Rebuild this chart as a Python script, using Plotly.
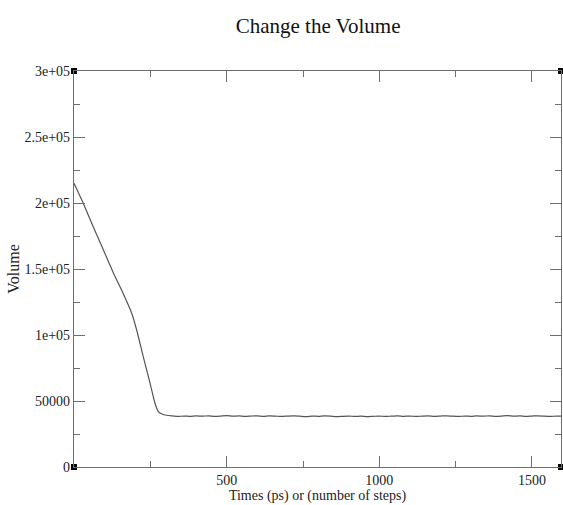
import plotly.graph_objects as go

# Descent phase
t_drop = [0, 15, 30, 63, 96, 129, 161, 189, 205, 227, 249, 265, 276, 290, 303, 320]
v_drop = [215000, 207500, 200000, 182000, 164500, 147000, 131500, 116500, 104000, 83500, 63500, 48500, 42000, 40000, 39200, 38700]

# Plateau phase (small fluctuations)
t_flat = [340, 360, 380, 400, 420, 440, 460, 480, 500, 520, 540, 560, 580, 600, 620, 640, 660, 680,
          700, 720, 740, 760, 780, 800, 820, 840, 860, 880, 900, 920, 940, 960, 980, 1000, 1020,
          1040, 1060, 1080, 1100, 1120, 1140, 1160, 1180, 1200, 1220, 1240, 1260, 1280, 1300, 1320,
          1340, 1360, 1380, 1400, 1420, 1440, 1460, 1480, 1500, 1520, 1540, 1560, 1580, 1595]
v_flat = [38300, 38600, 38400, 38700, 38500, 38800, 38400, 38600, 38900, 38500, 38700, 38300, 38600, 38800,
          38400, 38700, 38500, 38300, 38600, 38800, 38500, 38200, 38600, 38400, 38700, 38500, 38100, 38400,
          38600, 38300, 38500, 38200, 38400, 38600, 38300, 38500, 38700, 38400, 38600, 38300, 38500, 38700,
          38400, 38600, 38800, 38500, 38300, 38600, 38400, 38700, 38500, 38800, 38400, 38600, 38900, 38500,
          38700, 38400, 38600, 38800, 38500, 38300, 38600, 38500]

times = t_drop + t_flat
volume = v_drop + v_flat

x_range = [0, 1595]
y_range = [0, 300000]
y_ticks = [0, 50000, 100000, 150000, 200000, 250000, 300000]
y_labels = ["0", "50000", "1e+05", "1.5e+05", "2e+05", "2.5e+05", "3e+05"]
x_ticks = [500, 1000, 1500]
x_labels = ["500", "1000", "1500"]

font = "Liberation Serif"
axcol = "#6e6e6e"

fig = go.Figure()
fig.add_trace(go.Scatter(x=times, y=volume, mode="lines", line_shape="spline",
                         line=dict(color="#555555", width=1.2, smoothing=0.6),
                         showlegend=False, hoverinfo="skip"))
# corner markers
fig.add_trace(go.Scatter(x=[x_range[0], x_range[0], x_range[1], x_range[1]],
                         y=[y_range[0], y_range[1], y_range[1], y_range[0]],
                         mode="markers", marker=dict(symbol="square", size=6, color="black"),
                         cliponaxis=False, showlegend=False, hoverinfo="skip"))

fig.update_layout(
    width=563, height=505,
    margin=dict(l=74, r=2, t=71, b=38),
    paper_bgcolor="white", plot_bgcolor="white",
    font=dict(family=font, color="#222222", size=14),
    title=dict(text="Change the Volume", x=0.565, xanchor="center", y=0.95, yanchor="middle",
               font=dict(family=font, size=21, color="#111111")),
)
fig.update_xaxes(range=x_range, tickvals=x_ticks, ticktext=x_labels, ticks="inside", ticklen=11,
                 tickcolor=axcol, tickwidth=1, showline=True, linecolor=axcol, linewidth=1.3,
                 mirror="allticks", showgrid=False, zeroline=False,
                 minor=dict(tickvals=[250, 750, 1250], ticks="inside", ticklen=6, tickcolor=axcol),
                 tickfont=dict(family=font, size=14, color="#222222"),
                 title=dict(text="Times (ps) or (number of steps)", standoff=2,
                            font=dict(family=font, size=14, color="#222222")))
fig.update_yaxes(range=y_range, tickvals=y_ticks, ticktext=y_labels, ticks="inside", ticklen=11,
                 tickcolor=axcol, tickwidth=1, showline=True, linecolor=axcol, linewidth=1.3,
                 mirror="allticks", showgrid=False, zeroline=False,
                 minor=dict(tickvals=[25000, 75000, 125000, 175000, 225000, 275000], ticks="inside",
                            ticklen=6, tickcolor=axcol),
                 tickfont=dict(family=font, size=14, color="#222222"),
                 title=dict(text="Volume", standoff=0, font=dict(family=font, size=16, color="#222222")))

fig.write_html("out.html")
